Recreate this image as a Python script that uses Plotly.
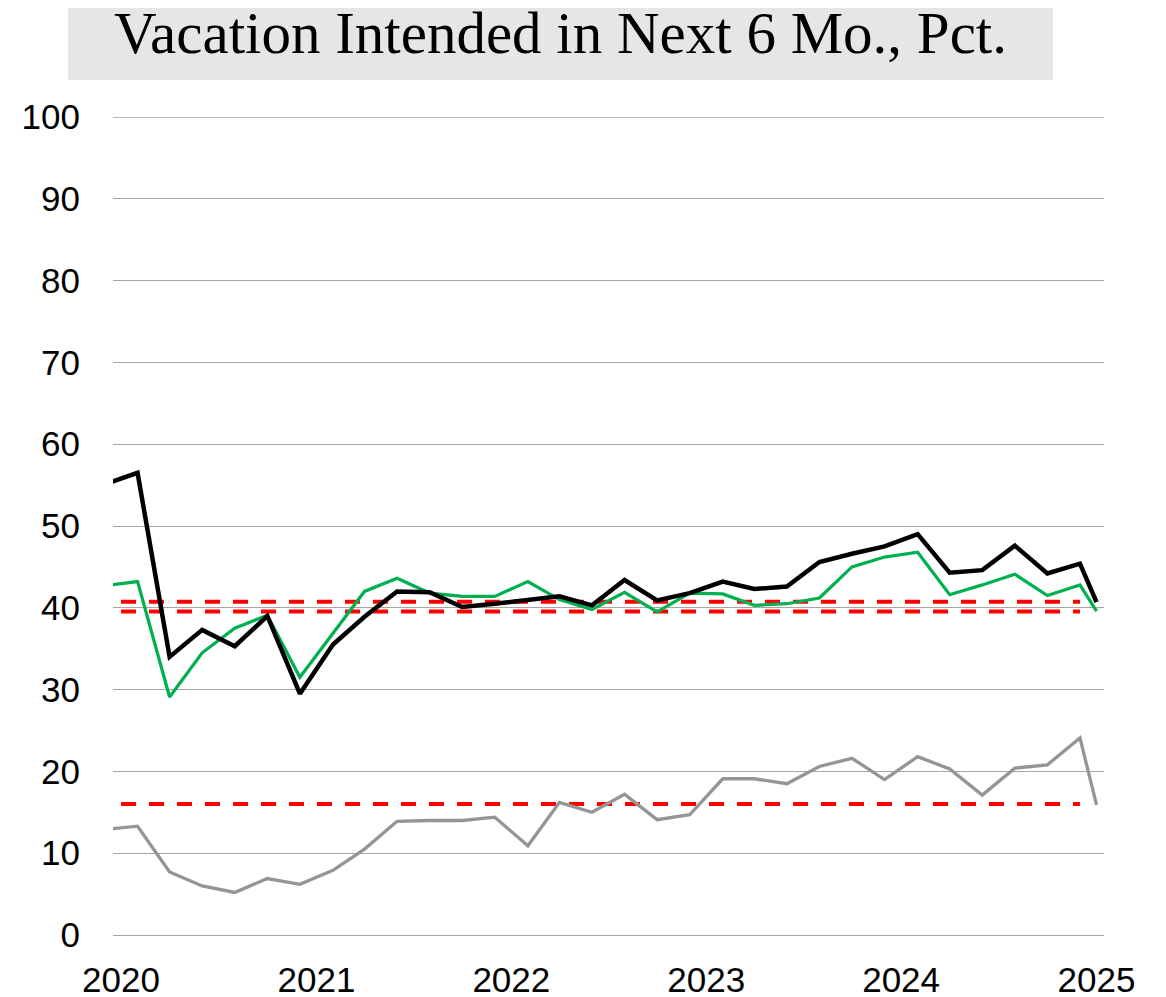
import pandas as pd
import plotly.graph_objects as go

# ---- data ----
dates = list(pd.date_range("2019-12-01", "2024-12-01", freq="2MS").strftime("%Y-%m-%d")) + ["2025-01-01"]

total = [55.1, 56.5, 34.0, 37.3, 35.3, 39.0, 29.5,
         35.5, 38.9, 42.0, 41.9, 40.1, 40.5,
         40.9, 41.4, 40.3, 43.4, 40.9, 41.8,
         43.2, 42.3, 42.6, 45.6, 46.6, 47.5,
         49.0, 44.3, 44.6, 47.6, 44.2, 45.4,
         40.7]

green_series = [42.7, 43.2, 29.1, 34.5, 37.5, 39.1, 31.5,
                36.8, 42.0, 43.6, 41.8, 41.4, 41.4,
                43.2, 41.0, 39.8, 41.9, 39.5, 41.8,
                41.7, 40.3, 40.5, 41.2, 45.0, 46.2,
                46.8, 41.6, 42.8, 44.1, 41.5, 42.8,
                39.6]

gray_series = [12.9, 13.3, 7.7, 6.0, 5.2, 6.9, 6.2,
               7.9, 10.5, 13.9, 14.0, 14.0, 14.4,
               10.9, 16.2, 15.0, 17.2, 14.1, 14.7,
               19.1, 19.1, 18.5, 20.6, 21.6, 19.0,
               21.8, 20.3, 17.1, 20.4, 20.8, 24.1,
               15.9]

ref_start, ref_end = "2020-01-01", "2024-12-01"
ref_levels = [40.75, 39.55, 16.0]

y_max = 100
year_ticks = ["2020-01-01", "2021-01-01", "2022-01-01", "2023-01-01", "2024-01-01", "2025-01-01"]
year_labels = ["2020", "2021", "2022", "2023", "2024", "2025"]
title_text = "Vacation Intended in Next 6 Mo., Pct."

GRID = "#A6A6A6"

# ---- figure ----
fig = go.Figure()

for lvl in ref_levels:
    fig.add_trace(go.Scatter(x=[ref_start, ref_end], y=[lvl, lvl], mode="lines",
                             line=dict(color="#FF0000", width=4, dash="15px,13px"),
                             hoverinfo="skip"))

fig.add_trace(go.Scatter(x=dates, y=gray_series, mode="lines",
                         line=dict(color="#959595", width=3.3)))
fig.add_trace(go.Scatter(x=dates, y=green_series, mode="lines",
                         line=dict(color="#00B050", width=3.2)))
fig.add_trace(go.Scatter(x=dates, y=total, mode="lines",
                         line=dict(color="#000000", width=4.5)))

fig.update_layout(
    width=1166, height=997,
    margin=dict(l=105, r=70, t=109, b=70, autoexpand=False),
    paper_bgcolor="white", plot_bgcolor="white",
    showlegend=False,
    font=dict(family="Liberation Sans, Arial, sans-serif", color="black"),
)

fig.update_xaxes(
    type="date",
    range=["2019-12-17", "2025-01-15"],
    tickvals=year_ticks, ticktext=year_labels,
    tickfont=dict(size=35, family="Liberation Sans, Arial, sans-serif", color="black"),
    showgrid=False, zeroline=False, showline=False,
    ticks="outside", ticklen=14, tickcolor="rgba(0,0,0,0)",
    automargin=False,
)

fig.update_yaxes(
    range=[0, y_max], tickvals=list(range(0, y_max + 1, 10)),
    tickfont=dict(size=35, family="Liberation Sans, Arial, sans-serif", color="black"),
    showgrid=True, gridcolor=GRID, gridwidth=1.3,
    zeroline=True, zerolinecolor=GRID, zerolinewidth=1.3,
    showline=False,
    ticks="outside", ticklen=25, tickcolor="rgba(0,0,0,0)",
    automargin=False,
)

# top gridline (plotly skips the one on the plot edge)
fig.add_shape(type="line", xref="paper", yref="y", x0=0, x1=1, y0=y_max, y1=y_max,
              line=dict(color=GRID, width=1.3), layer="below")

# title box
fig.add_shape(type="rect", xref="paper", yref="paper",
              x0=-0.0454, x1=0.9485, y0=1.0452, y1=1.16,
              fillcolor="#E6E6E6", line=dict(width=0), layer="below")
fig.add_annotation(text=title_text, xref="paper", yref="paper",
                   x=0.452, y=1.103, xanchor="center", yanchor="middle",
                   showarrow=False,
                   font=dict(family="Liberation Serif, Times New Roman, serif", size=59, color="black"))

fig.write_html("out.html")
